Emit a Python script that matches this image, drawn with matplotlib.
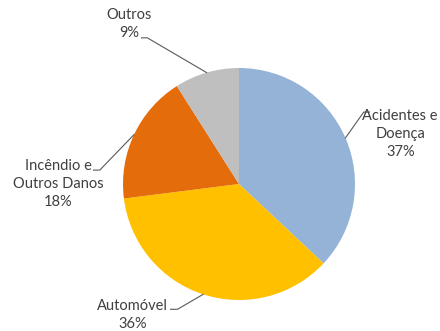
import numpy as np
import matplotlib
matplotlib.use("Agg")
import matplotlib.pyplot as plt

labels = ["Acidentes e\nDoença", "Automóvel", "Incêndio e\nOutros Danos", "Outros"]
values = [37, 36, 18, 9]
colors = ["#95B3D7", "#FFC000", "#E46C0A", "#BFBFBF"]

# label placement (text centre, leader elbow) in pie-radius units
label_pos = [(1.39, 0.43), (-0.92, -1.13), (-1.56, 0.0), (-0.95, 1.38)]
elbows = [(1.075, 0.62), (-0.53, -1.08), (-1.2, 0.12), (-0.79, 1.26)]
elbow_len = [-0.05, 0.06, 0.055, 0.05]

plt.rcParams['font.family'] = ['Lato', 'DejaVu Sans']

fig = plt.figure(figsize=(4.40, 3.31), dpi=100)
ax = fig.add_axes([0, 0, 1, 1])

wedges, _ = ax.pie(values, colors=colors, startangle=90, counterclock=False,
                   radius=1.0, center=(0, 0), wedgeprops=dict(linewidth=0))

for w, lab, v, pos, elb, el in zip(wedges, labels, values, label_pos, elbows, elbow_len):
    mid = np.deg2rad((w.theta1 + w.theta2) / 2)
    ex, ey = np.cos(mid), np.sin(mid)
    xs = [ex, elb[0], elb[0] - el]
    ys = [ey, elb[1], elb[1]]
    ax.plot(xs, ys, color="#595959", lw=0.8)
    ax.text(pos[0], pos[1], f"{lab}\n{v}%", ha="center", va="center",
            fontsize=10.5, color="#404040", linespacing=1.38)

# pixel mapping: centre at (239, 184), radius 116 px
ax.set_xlim(-239 / 116, (440 - 239) / 116)
ax.set_ylim(-(331 - 184) / 116, 184 / 116)
ax.set_aspect("auto")
ax.axis("off")

fig.savefig("out.png", dpi=100)
